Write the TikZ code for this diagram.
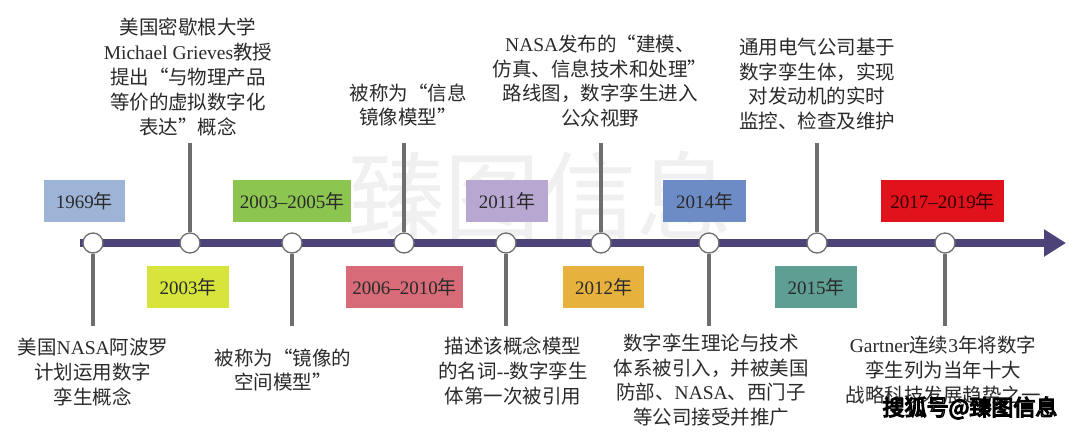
\documentclass[tikz,border=0pt]{standalone}
\usepackage{fontspec}
\setmainfont{Noto Sans CJK SC}
\newfontfamily\tms{Liberation Serif}
\usetikzlibrary{arrows.meta}
\definecolor{linepurple}{HTML}{4E4379}
\definecolor{stemgray}{HTML}{6E6E70}
\definecolor{txt}{HTML}{2A2A2A}
\definecolor{cA}{HTML}{9DB4D6}
\definecolor{cB}{HTML}{8CC650}
\definecolor{cC}{HTML}{D6E43C}
\definecolor{cD}{HTML}{D76B77}
\definecolor{cE}{HTML}{B8A7D1}
\definecolor{cF}{HTML}{E6B13C}
\definecolor{cG}{HTML}{6D8CC6}
\definecolor{cH}{HTML}{5E9E93}
\definecolor{cI}{HTML}{E0121C}
\newcommand{\outlinetext}[1]{\color{white}\special{pdf:code 2 Tr 1.3 w 0 G}#1\special{pdf:code 0 Tr}}
\begin{document}
\begin{tikzpicture}[x=1pt,y=-1pt,
  yearbox/.style={minimum height=42pt, inner sep=0pt, text=txt, font=\fontsize{19}{22}\selectfont},
  desc/.style={align=center, inner sep=0pt, text=txt, font=\fontsize{19.5}{24.8}\selectfont},
  stemline/.style={draw=stemgray, line width=3.5pt},
  dot/.style={circle, draw=stemgray, fill=white, minimum size=20pt, inner sep=0pt, line width=1.3pt},
  axis/.style={draw=linepurple, line width=8pt, -{Triangle[length=22pt,width=26pt]}}]
\useasboundingbox (0,0) rectangle (1080,432);
\fill[white] (0,0) rectangle (1080,432);
% large watermark
\node[text=gray!12, font=\fontsize{96}{96}\selectfont, inner sep=0pt] (wmbig) at (540,196) {臻图信息};
% year boxes
\node[yearbox, fill=cA, minimum width=81pt] (y1969) at (84.5,201) {{\tms 1969}年};
\node[yearbox, fill=cB, minimum width=118pt] (y0305) at (292,201) {{\tms 2003–2005}年};
\node[yearbox, fill=cE, minimum width=82pt] (y2011) at (507,201) {{\tms 2011}年};
\node[yearbox, fill=cG, minimum width=83pt] (y2014) at (704.5,201) {{\tms 2014}年};
\node[yearbox, fill=cI, minimum width=123pt, text=black!80!red] (y1719) at (942.5,201) {{\tms 2017–2019}年};
\node[yearbox, fill=cC, minimum width=82pt] (y2003) at (188,287) {{\tms 2003}年};
\node[yearbox, fill=cD, minimum width=117pt] (y0610) at (404.5,287) {{\tms 2006–2010}年};
\node[yearbox, fill=cF, minimum width=81pt] (y2012) at (603.5,287) {{\tms 2012}年};
\node[yearbox, fill=cH, minimum width=82pt] (y2015) at (816,287) {{\tms 2015}年};
% timeline
\coordinate (tlstart) at (80,243);
\coordinate (tlend) at (1066,243);
\draw[axis] (tlstart) -- (tlend);
% circles
\node[dot] (c1) at (93,243) {};
\node[dot] (c2) at (190,243) {};
\node[dot] (c3) at (292,243) {};
\node[dot] (c4) at (404,243) {};
\node[dot] (c5) at (506,243) {};
\node[dot] (c6) at (601,243) {};
\node[dot] (c7) at (709,243) {};
\node[dot] (c8) at (817,243) {};
\node[dot] (c9) at (945,243) {};
% stem ends
\coordinate (s1) at (93,326);
\coordinate (s2) at (190,143);
\coordinate (s3) at (292,326);
\coordinate (s4) at (404,143);
\coordinate (s5) at (506,326);
\coordinate (s6) at (601,143);
\coordinate (s7) at (709,326);
\coordinate (s8) at (817,143);
\coordinate (s9) at (945,326);
\draw[stemline] (c1.south) -- (s1);
\draw[stemline] (c2.north) -- (s2);
\draw[stemline] (c3.south) -- (s3);
\draw[stemline] (c4.north) -- (s4);
\draw[stemline] (c5.south) -- (s5);
\draw[stemline] (c6.north) -- (s6);
\draw[stemline] (c7.south) -- (s7);
\draw[stemline] (c8.north) -- (s8);
\draw[stemline] (c9.south) -- (s9);
% top texts
\node[desc] (t2) at (188,77) {美国密歇根大学\\{\tms Michael Grieves}教授\\提出“与物理产品\\等价的虚拟数字化\\表达”概念};
\node[desc] (t4) at (408,105) {被称为“信息\\镜像模型”};
\node[desc] (t6) at (600,81) {{\tms NASA}发布的“建模、\\仿真、信息技术和处理”\\路线图，数字孪生进入\\公众视野};
\node[desc] (t8) at (817,84) {通用电气公司基于\\数字孪生体，实现\\对发动机的实时\\监控、检查及维护};
% bottom texts
\node[desc] (b1) at (93,372) {美国{\tms NASA}阿波罗\\计划运用数字\\孪生概念};
\node[desc] (b3) at (283,370) {被称为“镜像的\\空间模型”};
\node[desc] (b5) at (513,371) {描述该概念模型\\的名词{\tms -{}-}数字孪生\\体第一次被引用};
\node[desc] (b7) at (711,380) {数字孪生理论与技术\\体系被引入，并被美国\\防部、{\tms NASA}、西门子\\等公司接受并推广};
\node[desc] (b9) at (943,370) {{\tms Gartner}连续{\tms 3}年将数字\\孪生列为当年十大\\战略科技发展趋势之一};
% small watermark
\node[font=\fontsize{22}{22}\selectfont, inner sep=0pt] (wms) at (970,408) {\outlinetext{搜狐号@臻图信息}};
\end{tikzpicture}
\end{document}
